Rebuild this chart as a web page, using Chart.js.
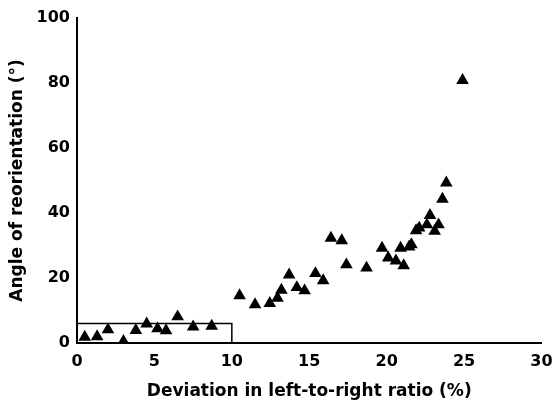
<!DOCTYPE html>
<html>
<head>
<meta charset="utf-8">
<script src="https://cdn.jsdelivr.net/npm/chart.js@4/dist/chart.umd.min.js"></script>
<style>
  html, body { margin: 0; padding: 0; background: #fff; }
  #wrap { width: 556px; height: 408px; }
</style>
</head>
<body>
<div id="wrap"><canvas id="chart" width="556" height="408"></canvas></div>
<script>
// deviation in left-to-right ratio (%)
var deviation = [0.5, 1.3, 2.0, 3.0, 3.8, 4.5, 5.2, 5.75, 6.5, 7.5, 8.7,
  10.5, 11.5, 12.45, 12.95, 13.2, 13.7, 14.2, 14.7, 15.4, 15.9,
  16.4, 17.1, 17.4, 18.7, 19.7, 20.1, 20.6, 20.9, 21.1, 21.45, 21.6,
  21.9, 22.1, 22.6, 22.8, 23.1, 23.35, 23.6, 23.85, 24.9];
// angle of reorientation (deg)
var angle = [1.8, 2.0, 4.1, 0.5, 3.9, 5.9, 4.4, 3.8, 8.1, 5.0, 5.2,
  14.6, 11.8, 12.2, 13.8, 16.3, 21.0, 17.1, 16.1, 21.4, 19.2,
  32.3, 31.5, 24.1, 23.1, 29.2, 26.2, 25.3, 29.2, 23.8, 29.6, 30.3,
  34.6, 35.4, 36.4, 39.3, 34.4, 36.4, 44.3, 49.3, 80.8];
// outlined region (normal range)
var boxX = [0, 0, 10, 10];
var boxY = [0, 6, 6, 0];

var xTicks = [0, 5, 10, 15, 20, 25, 30];
var yTicks = [0, 20, 40, 60, 80, 100];

var points = deviation.map(function (d, i) { return { x: d, y: angle[i] }; });
var box = boxX.map(function (b, i) { return { x: b, y: boxY[i] }; });

var font = "'DejaVu Sans', Verdana, sans-serif";

new Chart(document.getElementById("chart"), {
  type: 'scatter',
  data: {
    datasets: [{
      data: points,
      pointStyle: 'triangle',
      pointRadius: 7.3,
      backgroundColor: '#000',
      borderColor: '#000',
      borderWidth: 0
    }, {
      data: box,
      showLine: true,
      pointRadius: 0,
      borderColor: '#000',
      borderWidth: 1.5,
      fill: false
    }]
  },
  options: {
    responsive: false,
    animation: false,
    events: [],
    layout: { padding: { top: 18, right: 14.5, left: 0, bottom: 0 } },
    plugins: { legend: { display: false }, tooltip: { enabled: false } },
    scales: {
      x: {
        type: 'linear',
        min: 0, max: 30,
        afterBuildTicks: function (scale) { scale.ticks = xTicks.map(function (v) { return { value: v }; }); },
        afterFit: function (scale) { scale.height = 65; scale.paddingLeft = 0; scale.paddingRight = 0; },
        grid: { display: false, drawTicks: false, tickLength: 0 },
        border: { display: true, color: '#000', width: 2 },
        ticks: { color: '#000', padding: 9, maxRotation: 0, font: { family: font, size: 16, weight: 'bold' } },
        title: {
          display: true,
          text: 'Deviation in left-to-right ratio (%)',
          color: '#000',
          padding: { top: 4, bottom: 6 },
          font: { family: font, size: 17, weight: 'bold' }
        }
      },
      y: {
        type: 'linear',
        min: 0, max: 100,
        afterBuildTicks: function (scale) { scale.ticks = yTicks.map(function (v) { return { value: v }; }); },
        afterFit: function (scale) { scale.width = 77; },
        grid: { display: false, drawTicks: false, tickLength: 0 },
        border: { display: true, color: '#000', width: 2 },
        ticks: { color: '#000', padding: 7, font: { family: font, size: 16, weight: 'bold' } },
        title: {
          display: true,
          text: 'Angle of reorientation (°)',
          color: '#000',
          padding: { top: 7, bottom: 4 },
          font: { family: font, size: 17, weight: 'bold' }
        }
      }
    }
  }
});
</script>
</body>
</html>
